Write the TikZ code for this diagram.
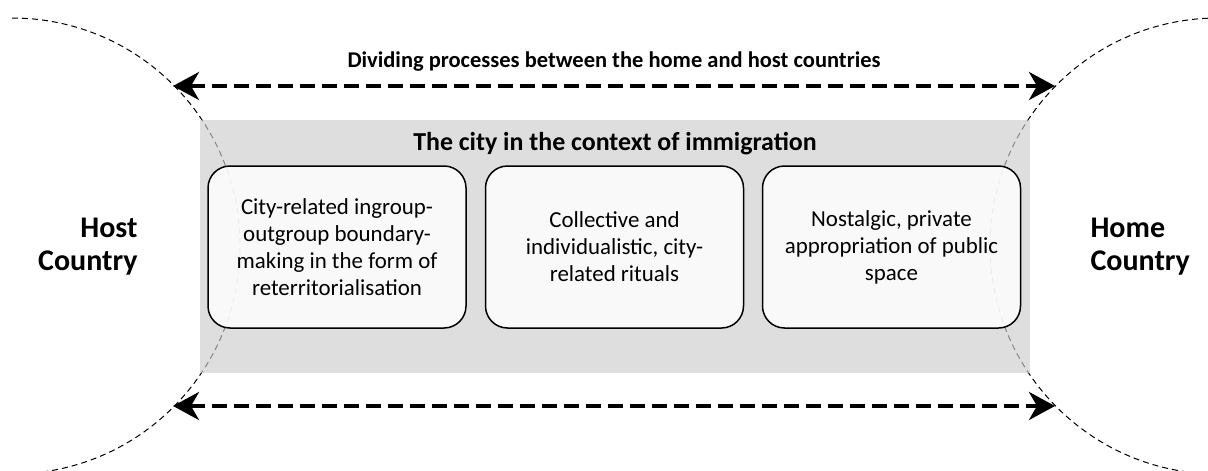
\documentclass[tikz,border=0pt]{standalone}
\usepackage{fontspec}
\setmainfont{Carlito}
\usetikzlibrary{arrows.meta}
\begin{document}
\begin{tikzpicture}[x=1pt,y=-1pt,
  region/.style={draw=black,line width=1pt,dash pattern=on 6pt off 4pt},
  divider/.style={line width=4pt,dash pattern=on 15pt off 7pt,
    {Stealth[length=26pt,width=28pt,inset=8pt]}-{Stealth[length=26pt,width=28pt,inset=8pt]}},
  citypanel/.style={fill=black!20,fill opacity=0.65,draw=none},
  themebox/.style={draw=black,line width=1.5pt,rounded corners=22pt,fill=white,
    fill opacity=0.85,text opacity=1,align=center,minimum width=258pt,minimum height=162pt,
    font=\fontsize{22.9}{27}\selectfont,inner sep=0pt},
  country/.style={font=\fontsize{30}{33}\selectfont\bfseries}
]
\useasboundingbox (0,0) rectangle (1208,471);
\clip (0,0) rectangle (1208,471);

% the two countries, drawn as large dashed circles
\draw[region] (12,18) arc[start angle=-90,end angle=90,radius=228];
\draw[region] (1218,18) arc[start angle=-90,end angle=-270,radius=228];

% arrow ends on the circles
\coordinate (lt) at (173,86);
\coordinate (rt) at (1055,86);
\coordinate (lb) at (173,406);
\coordinate (rb) at (1055,406);

% the city panel
\fill[citypanel] (200,120) rectangle (1030,373);
\node[font=\fontsize{25.9}{31}\selectfont\bfseries] (city) at (615,144) {The city in the context of immigration};

\node[themebox] (b1) at (337,247) {City-related ingroup-\\outgroup boundary-\\making in the form of\\reterritorialisation};
\node[themebox] (b2) at (614.5,247) {Collective and\\individualistic, city-\\related rituals};
\node[themebox] (b3) at (891.5,247) {Nostalgic, private\\appropriation of public\\space};

% dividing processes
\node[font=\fontsize{22.5}{27}\selectfont\bfseries] (div) at (614,62) {Dividing processes between the home and host countries};
\draw[divider] (lt) -- (rt);
\draw[divider] (lb) -- (rb);

% country labels
\node[country,align=right,anchor=east] (host) at (141,247) {Host\\Country};
\node[country,align=left,anchor=west] (home) at (1087,247) {Home\\Country};
\end{tikzpicture}
\end{document}
